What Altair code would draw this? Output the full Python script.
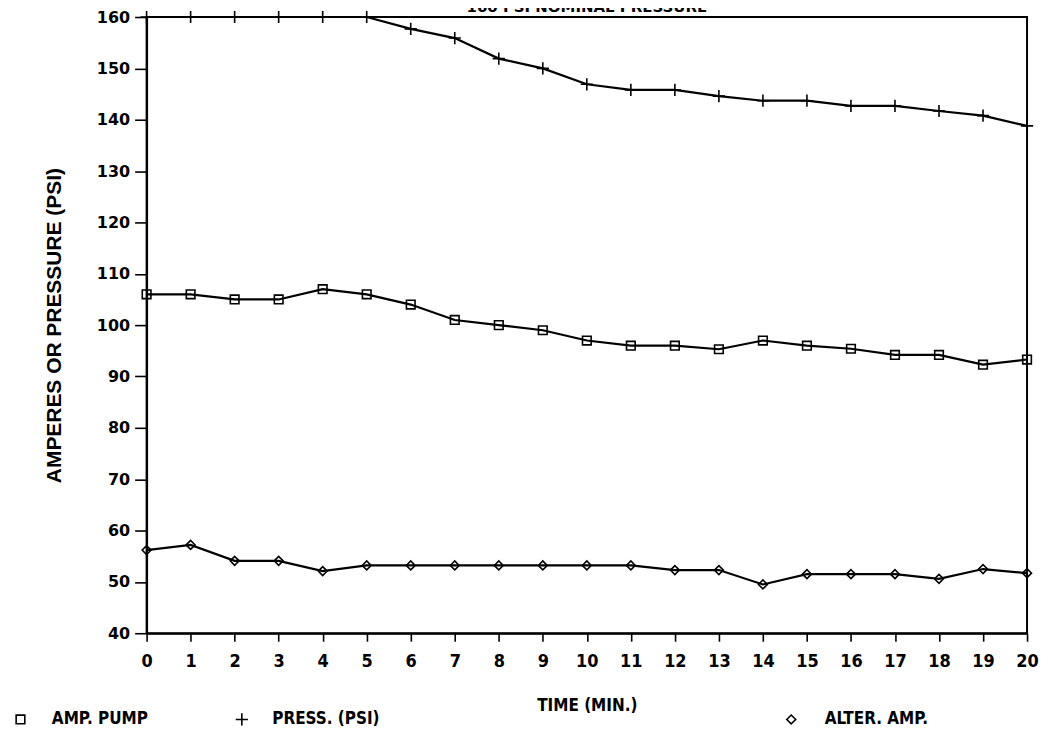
import altair as alt
import pandas as pd

title_text = "160 PSI NOMINAL PRESSURE"
time = list(range(21))
amp_pump = [106, 106, 105, 105, 107, 106, 104, 101, 100, 99, 97, 96, 96, 95.3, 97, 96, 95.4, 94.2, 94.2, 92.3, 93.3]
pressure = [160, 160, 160, 160, 160, 160, 157.7, 155.9, 151.9, 150, 146.9, 145.8, 145.8, 144.6, 143.7, 143.7, 142.7, 142.7, 141.7, 140.8, 138.8]
alter_amp = [56.2, 57.2, 54.1, 54.1, 52.1, 53.2, 53.2, 53.2, 53.2, 53.2, 53.2, 53.2, 52.3, 52.3, 49.5, 51.5, 51.5, 51.5, 50.6, 52.5, 51.7]

series_names = ["AMP. PUMP", "PRESS. (PSI)", "ALTER. AMP."]
series_values = [amp_pump, pressure, alter_amp]
series_shapes = ["square", "M-1,0L1,0M0,-1L0,1", "diamond"]
series_sizes = [75, 150, 80]
legend_x = [-135, 87, 638]
label_offsets = [23, 22, 25]
y_ticks = list(range(40, 161, 10))

BOLD = "DejaVu Sans"
COND = "DejaVu Sans Condensed, Liberation Sans Narrow, DejaVu Sans"

x_enc = alt.X(
    "t:Q",
    scale=alt.Scale(domain=[0, 20], nice=False, zero=False),
    axis=alt.Axis(values=time, title="TIME (MIN.)", format="d",
                  labelFont=COND, labelFontSize=18, labelFontWeight="bold",
                  titleFont=COND, titleFontSize=17, titleFontWeight="bold",
                  tickSize=8, labelPadding=11, titlePadding=27, labelFlush=False),
)
y_enc = alt.Y(
    "v:Q",
    scale=alt.Scale(domain=[40, 160], nice=False, zero=False),
    axis=alt.Axis(values=y_ticks, title="AMPERES OR PRESSURE (PSI)", format="d",
                  labelFont=BOLD, labelFontSize=16, labelFontWeight="bold",
                  titleFont="Liberation Sans", titleFontSize=21, titleFontWeight="bold",
                  tickSize=12, labelPadding=5, titlePadding=32),
)

layers = []
for name, vals, shp, sz, lx, lo in zip(series_names, series_values, series_shapes, series_sizes, legend_x, label_offsets):
    df = pd.DataFrame({"t": time, "v": vals, "series": name})
    line = alt.Chart(df).mark_line(color="black", strokeWidth=2.2).encode(x=x_enc, y=y_enc)
    pts = alt.Chart(df).mark_point(filled=False, color="black", strokeWidth=1.6, size=sz, opacity=1).encode(
        x=x_enc, y=y_enc,
        shape=alt.Shape("series:N", scale=alt.Scale(domain=[name], range=[shp]),
                        legend=alt.Legend(orient="none", legendX=lx, legendY=696, title=None,
                                          padding=0, labelOffset=lo, symbolSize=sz,
                                          symbolStrokeColor="black", symbolStrokeWidth=1.6,
                                          symbolFillColor="transparent",
                                          labelFont=COND, labelFontSize=17, labelFontWeight="bold",
                                          labelColor="black")),
    )
    layers += [line, pts]

title_df = pd.DataFrame({"label": [title_text]})
title_layer = alt.Chart(title_df).mark_text(
    fontSize=15, fontWeight="bold", font=BOLD, baseline="bottom", align="center", color="black"
).encode(text="label:N", x=alt.value(441.5), y=alt.value(-2))
layers.append(title_layer)

chart = alt.layer(*layers).resolve_scale(shape="independent").resolve_legend(shape="independent").properties(
    width=883, height=618,
    padding={"left": 139, "top": 8, "right": 15, "bottom": 93},
    autosize=alt.AutoSizeParams(type="none"),
    background="white",
).configure_view(stroke="black", strokeWidth=2).configure_axis(
    grid=False, domainColor="black", domainWidth=2, tickColor="black", tickWidth=1.6,
    labelColor="black", titleColor="black",
)

chart.save("out.html", embed_options={"renderer": "svg", "actions": False})
